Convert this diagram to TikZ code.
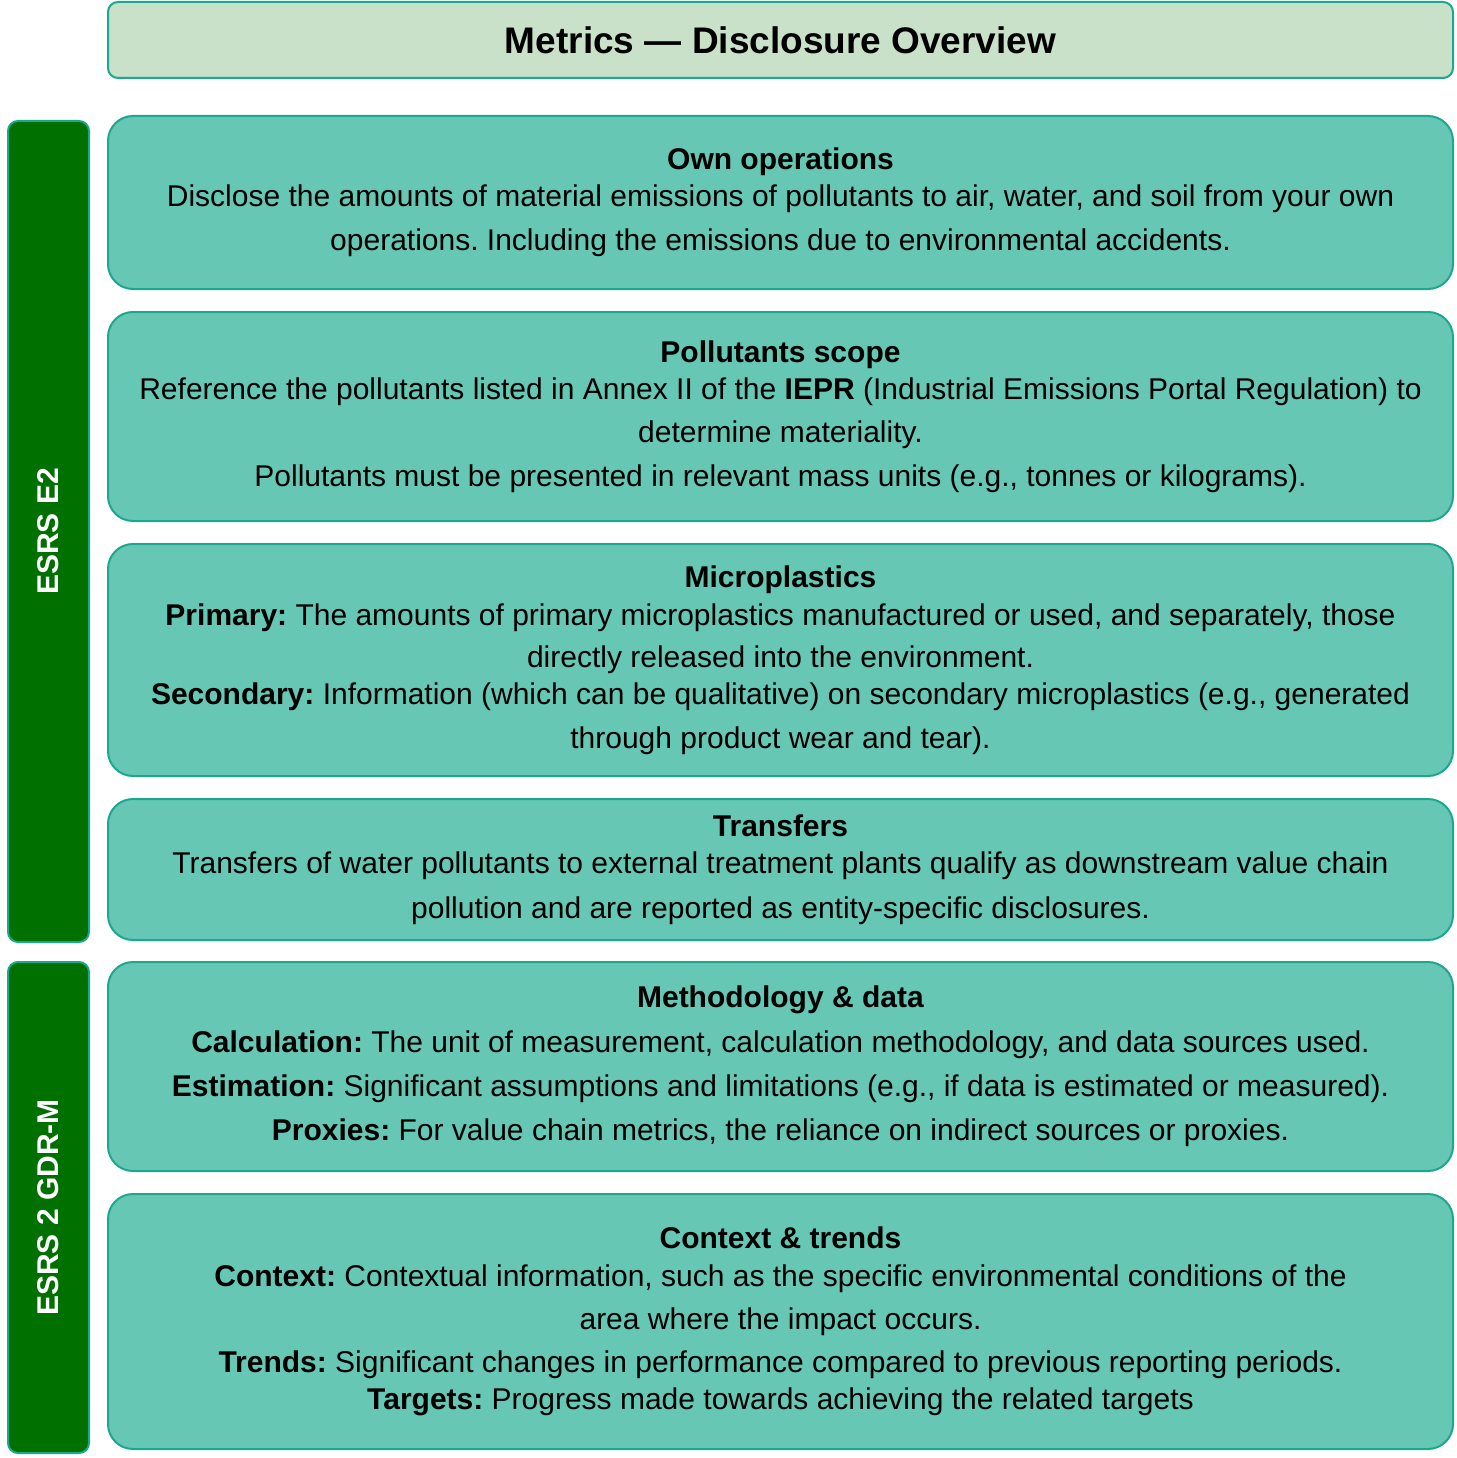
\documentclass[tikz,border=0pt]{standalone}
\usepackage{fontspec}
\setmainfont{Liberation Sans}
\frenchspacing
\definecolor{cteal}{HTML}{1BA88E}
\definecolor{cbox}{HTML}{66C7B4}
\definecolor{chead}{HTML}{C8E1C8}
\definecolor{cdark}{HTML}{007000}
\tikzset{
  every picture/.style={font=\fontsize{30}{37}\selectfont, line width=2pt},
  card/.style={draw=cteal, fill=cbox, rounded corners=25pt, align=center, inner sep=0pt, minimum width=1345pt},
  headbox/.style={draw=cteal, fill=chead, rounded corners=10pt, inner sep=0pt, minimum width=1345pt, minimum height=76pt,
                  font=\fontsize{37}{44}\selectfont\bfseries},
  sidebar/.style={draw=cteal, fill=cdark, rounded corners=10pt, inner sep=0pt, minimum width=81pt},
  sidelabel/.style={text=white, rotate=90, inner sep=0pt, font=\fontsize{30}{37}\selectfont\bfseries},
}

\begin{document}
\begin{tikzpicture}[x=1pt, y=-1pt]
  \useasboundingbox (0,0) rectangle (1456,1458);
  % ---------- header ----------
  \node[headbox] (head) at (780.5, 40) {Metrics --- Disclosure Overview};
  % ---------- side labels ----------
  \node[sidebar, minimum height=821pt] (e2) at (48.5, 531.5) {};
  \node[sidelabel] (e2lab) at (e2.center) {ESRS E2};
  \node[sidebar, minimum height=491pt] (gdr) at (48.5, 1207.5) {};
  \node[sidelabel] (gdrlab) at (gdr.center) {ESRS 2 GDR-M};
  % ---------- ESRS E2 cards ----------
  \node[card, minimum height=173pt] (own) at (780.5, 202.5) {\textbf{Own operations}\\
    Disclose the amounts of material emissions of pollutants to air, water, and soil from your own\\[7pt]
    operations. Including the emissions due to environmental accidents.};
  \node[card, minimum height=209pt] (scope) at (780.5, 416.5) {\textbf{Pollutants scope}\\
    Reference the pollutants listed in Annex II of the \textbf{IEPR} (Industrial Emissions Portal Regulation) to\\[6pt]
    determine materiality.\\[7pt]
    Pollutants must be presented in relevant mass units (e.g., tonnes or kilograms).};
  \node[card, minimum height=232pt] (micro) at (780.5, 660) {\textbf{Microplastics}\\[1pt]
    \textbf{Primary:} The amounts of primary microplastics manufactured or used, and separately, those\\[5pt]
    directly released into the environment.\\
    \textbf{Secondary:} Information (which can be qualitative) on secondary microplastics (e.g., generated\\[7pt]
    through product wear and tear).};
  \node[card, minimum height=141pt] (transfer) at (780.5, 869.5) {\textbf{Transfers}\\
    Transfers of water pollutants to external treatment plants qualify as downstream value chain\\[8pt]
    pollution and are reported as entity-specific disclosures.};
  % ---------- ESRS 2 GDR-M cards ----------
  \node[card, minimum height=209pt] (method) at (780.5, 1066.5) {\textbf{Methodology \& data}\\[8pt]
    \textbf{Calculation:} The unit of measurement, calculation methodology, and data sources used.\\[7pt]
    \textbf{Estimation:} Significant assumptions and limitations (e.g., if data is estimated or measured).\\[7pt]
    \textbf{Proxies:} For value chain metrics, the reliance on indirect sources or proxies.};
  \node[card, minimum height=255pt] (context) at (780.5, 1321.5) {\textbf{Context \& trends}\\[1pt]
    \textbf{Context:} Contextual information, such as the specific environmental conditions of the\\[6pt]
    area where the impact occurs.\\[6pt]
    \textbf{Trends:} Significant changes in performance compared to previous reporting periods.\\
    \textbf{Targets:} Progress made towards achieving the related targets};
\end{tikzpicture}
\end{document}
